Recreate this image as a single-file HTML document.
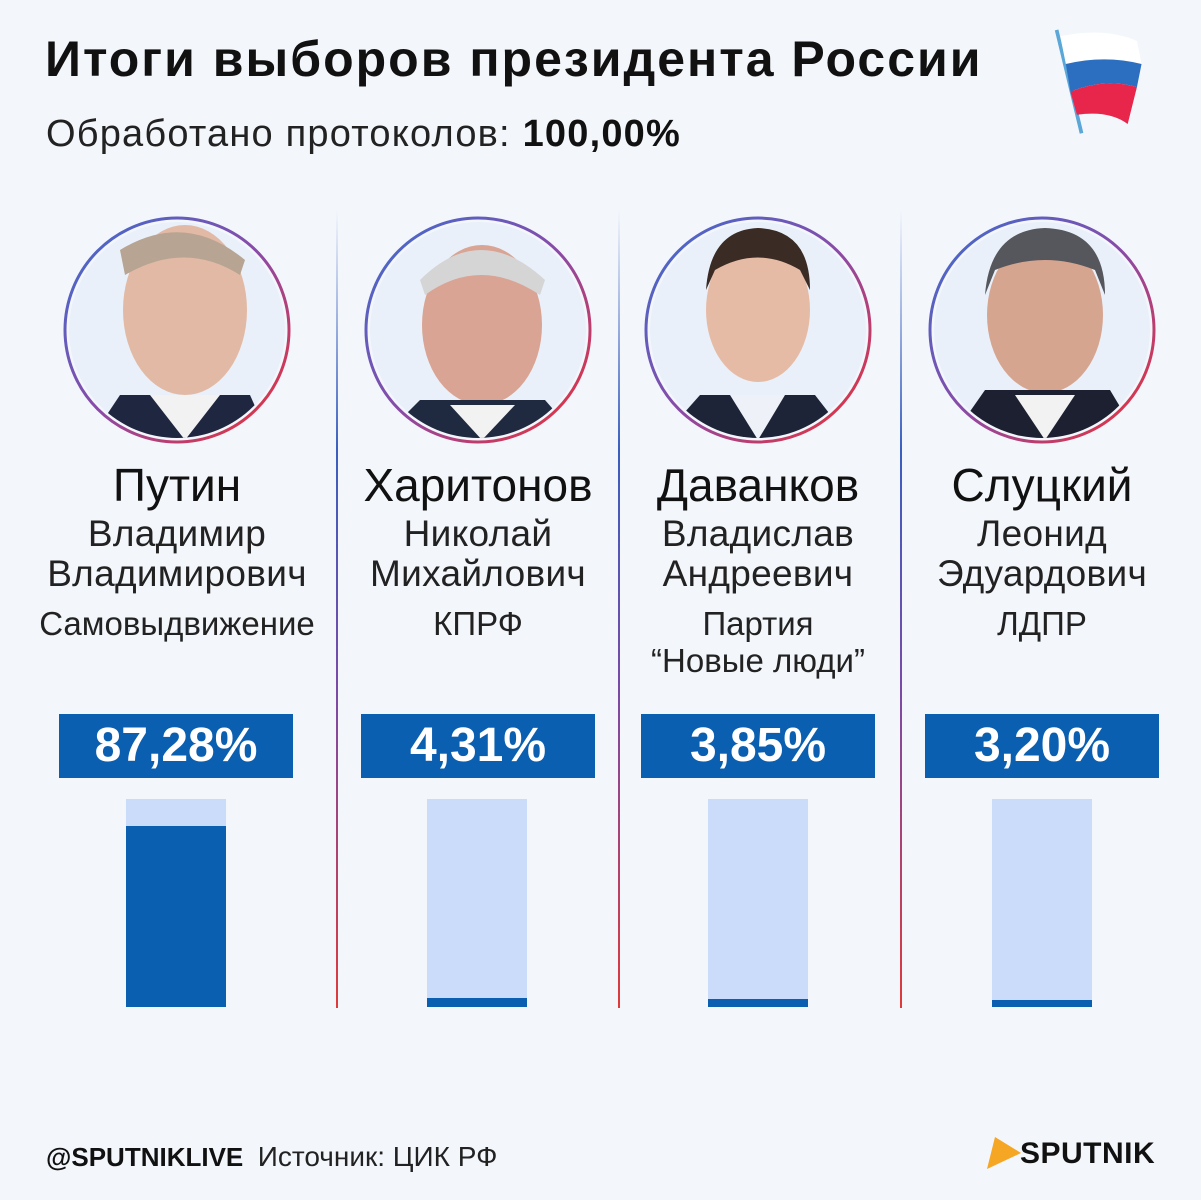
<!DOCTYPE html>
<html><head><meta charset="utf-8"><style>
body{margin:0;width:1201px;height:1200px;background:#f3f7fc;position:relative;overflow:hidden;font-family:"Liberation Sans",sans-serif;color:#111}
.a{position:absolute}
.t{left:45px;top:30px;font-size:50px;font-weight:bold;letter-spacing:2px}
.s{left:46px;top:113px;font-size:38px;color:#222;letter-spacing:1.2px}
.col{position:absolute;text-align:center;width:320px}
.sn{font-size:46px;line-height:50px}
.fn{font-size:37px;line-height:40px;color:#222;margin-top:4px;letter-spacing:0.3px}
.pt{font-size:33px;line-height:37px;color:#222;margin-top:11px}
.pc{position:absolute;width:234px;height:64px;background:#0a5fb0;color:#fff;font-size:48px;font-weight:bold;text-align:center;line-height:64px;top:714px}
.bar{position:absolute;width:100px;top:799px;height:208px;background:#cadcfa}
.bar div{position:absolute;left:0;right:0;bottom:0;background:#0a5fb0}
.div{position:absolute;top:210px;width:2px;height:798px;background:linear-gradient(#f3f7fc,#3a5fbf 30%,#7a4aa8 60%,#e03a3a)}
</style></head><body>
<div class="a t">Итоги выборов президента России</div>
<div class="a s">Обработано протоколов: <b style="color:#111">100,00%</b></div>
<svg class="a" style="left:1040px;top:20px" width="120" height="125" viewBox="0 0 130 130">
<line x1="18" y1="8" x2="45" y2="120" stroke="#5aa7d8" stroke-width="4"/>
<path d="M22 15 Q70 5 105 20 L110 45 Q70 35 28 45Z" fill="#ffffff"/>
<path d="M28 45 Q70 35 110 45 L105 70 Q70 60 33 75Z" fill="#2c6fc0"/>
<path d="M33 75 Q70 60 105 70 L95 110 Q75 95 40 100Z" fill="#e8254a"/>
</svg>
<div class="div" style="left:336px"></div>
<div class="div" style="left:618px"></div>
<div class="div" style="left:900px"></div>
<svg class="a" style="left:0;top:200px" width="1201" height="260">
<defs><linearGradient id="rg" x1="0" y1="0" x2="1" y2="1"><stop offset="0" stop-color="#3a6fd0"/><stop offset="0.5" stop-color="#8a4aa8"/><stop offset="1" stop-color="#f03030"/></linearGradient>
<clipPath id="c1"><circle cx="177" cy="130" r="108"/></clipPath>
<clipPath id="c2"><circle cx="478" cy="130" r="108"/></clipPath>
<clipPath id="c3"><circle cx="758" cy="130" r="108"/></clipPath>
<clipPath id="c4"><circle cx="1042" cy="130" r="108"/></clipPath></defs>
<g>
<circle cx="177" cy="130" r="112" fill="none" stroke="url(#rg)" stroke-width="3"/>
<g clip-path="url(#c1)"><circle cx="177" cy="130" r="108" fill="#e9f0fa"/><ellipse cx="185" cy="110" rx="62" ry="85" fill="#e2b9a4"/><path d="M120 50 Q185 10 245 60 L240 75 Q185 40 125 75Z" fill="#b7a493"/><path d="M90 240 L120 195 L250 195 L270 240Z" fill="#1f2640"/><path d="M150 195 L185 240 L220 195Z" fill="#f2f2f2"/></g>
<circle cx="478" cy="130" r="112" fill="none" stroke="url(#rg)" stroke-width="3"/>
<g clip-path="url(#c2)"><circle cx="478" cy="130" r="108" fill="#e9f0fa"/><ellipse cx="482" cy="125" rx="60" ry="80" fill="#d9a493"/><path d="M420 80 Q480 20 545 80 L540 95 Q480 55 425 95Z" fill="#d5d5d5"/><path d="M380 240 L420 200 L545 200 L580 240Z" fill="#1f2a40"/><path d="M450 205 L482 240 L515 205Z" fill="#f2f2f2"/></g>
<circle cx="758" cy="130" r="112" fill="none" stroke="url(#rg)" stroke-width="3"/>
<g clip-path="url(#c3)"><circle cx="758" cy="130" r="108" fill="#e9f0fa"/><ellipse cx="758" cy="110" rx="52" ry="72" fill="#e6bba6"/><path d="M706 90 Q710 30 758 28 Q810 30 810 90 L800 70 Q758 45 715 70Z" fill="#3a2c25"/><path d="M660 240 L700 195 L815 195 L850 240Z" fill="#1e2438"/><path d="M730 195 L758 240 L785 195Z" fill="#eef2f8"/></g>
<circle cx="1042" cy="130" r="112" fill="none" stroke="url(#rg)" stroke-width="3"/>
<g clip-path="url(#c4)"><circle cx="1042" cy="130" r="108" fill="#e9f0fa"/><ellipse cx="1045" cy="115" rx="58" ry="78" fill="#d6a590"/><path d="M985 95 Q990 30 1045 28 Q1105 30 1105 95 L1095 70 Q1045 50 995 70Z" fill="#55575c"/><path d="M950 240 L985 190 L1110 190 L1140 240Z" fill="#1c2030"/><path d="M1015 195 L1045 240 L1075 195Z" fill="#f2f2f2"/></g>
</g></svg>
<div class="col" style="left:17px;top:460px"><div class="sn">Путин</div><div class="fn">Владимир<br>Владимирович</div><div class="pt">Самовыдвижение</div></div>
<div class="col" style="left:318px;top:460px"><div class="sn">Харитонов</div><div class="fn">Николай<br>Михайлович</div><div class="pt">КПРФ</div></div>
<div class="col" style="left:598px;top:460px"><div class="sn">Даванков</div><div class="fn">Владислав<br>Андреевич</div><div class="pt">Партия<br>“Новые люди”</div></div>
<div class="col" style="left:882px;top:460px"><div class="sn">Слуцкий</div><div class="fn">Леонид<br>Эдуардович</div><div class="pt">ЛДПР</div></div>
<div class="pc" style="left:59px">87,28%</div>
<div class="pc" style="left:361px">4,31%</div>
<div class="pc" style="left:641px">3,85%</div>
<div class="pc" style="left:925px">3,20%</div>
<div class="bar" style="left:126px"><div style="height:181px"></div></div>
<div class="bar" style="left:427px"><div style="height:9px"></div></div>
<div class="bar" style="left:708px"><div style="height:8px"></div></div>
<div class="bar" style="left:992px"><div style="height:7px"></div></div>
<div class="a" style="left:46px;top:1141px;font-size:26px"><b>@SPUTNIKLIVE</b>&nbsp; <span style="color:#222;font-size:28px">Источник: ЦИК РФ</span></div>
<svg class="a" style="left:985px;top:1133px" width="40" height="40"><path d="M2 36 L10 4 L36 20Z" fill="#f5a623"/></svg>
<div class="a" style="left:1020px;top:1137px;font-size:30px;font-weight:bold;letter-spacing:0.5px">SPUTNIK</div>
</body></html>
